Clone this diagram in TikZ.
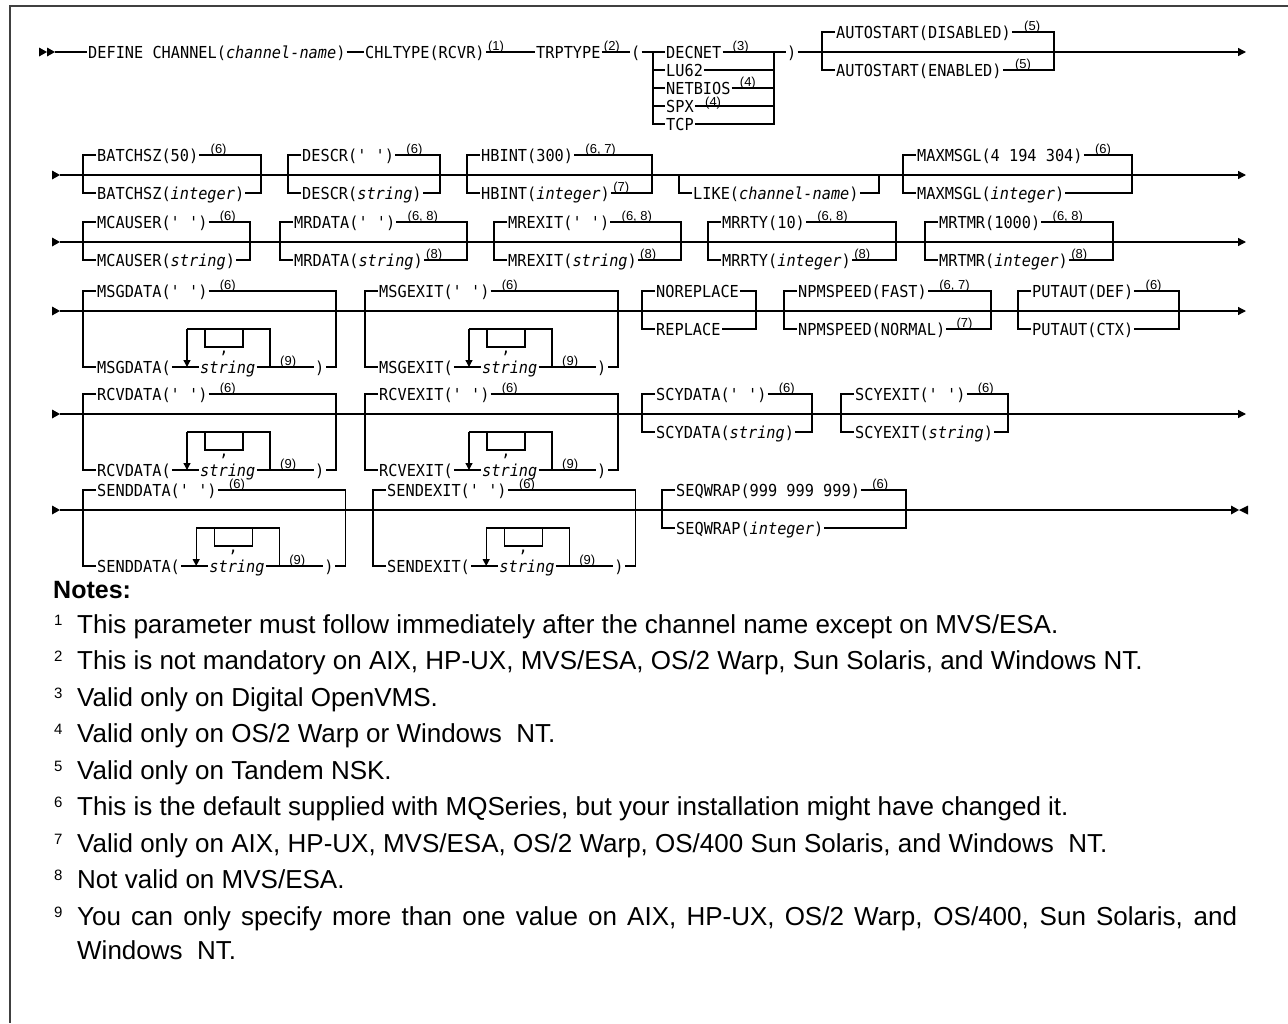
\documentclass[tikz,border=0pt]{standalone}
\usepackage{fontspec}
\usetikzlibrary{arrows.meta}
\newfontfamily\dm{DejaVu Sans Mono}[FakeStretch=0.925]
\newfontfamily\lsans{Liberation Sans}
\tikzset{
  ln/.style={line width=1.3pt},
  tx/.style={font=\dm\fontsize{16.5}{18}\selectfont, inner xsep=1pt, inner ysep=0pt, text height=12pt, text depth=0pt, anchor=west},
  sp/.style={font=\lsans\fontsize{13}{13}\selectfont, inner sep=0pt, anchor=base west},
  nt/.style={font=\lsans\fontsize{26}{30}\selectfont, inner sep=0pt, anchor=base west},
  nh/.style={font=\lsans\bfseries\fontsize{25}{30}\selectfont, inner sep=0pt, anchor=base west},
  nn/.style={font=\lsans\fontsize{15}{15}\selectfont, inner sep=0pt, anchor=base west},
  endtip/.style={-{Triangle[length=8pt,width=8pt]}},
  frame/.style={line width=1.5pt, black!75}
}
% option block: name, xl, xr, ymain, top text, bottom text
\newcommand\OB[6]{%
  \coordinate (#1tl) at (#2,#4-20);
  \coordinate (#1bl) at (#2,#4+18);
  \coordinate (#1tr) at (#3,#4-20);
  \coordinate (#1br) at (#3,#4+18);
  \node[tx] (#1t) at (#2+13,#4-20) {#5};
  \node[tx] (#1b) at (#2+13,#4+18) {#6};
  \draw[ln] (#1t.west) -- (#1tl) -- (#1bl) -- (#1b.west);
  \draw[ln] (#1t.east) -- (#1tr) -- (#1br) -- (#1b.east);
}
% repeat block: name, xl, ymain, top text, prefix, prefix chars
\newcommand\LB[6]{%
  \pgfmathsetmacro\LBll{#2+14+#6*9.2+16.4}%
  \pgfmathsetmacro\LBlr{\LBll+83}%
  \pgfmathsetmacro\LBr{\LBlr+66}%
  \pgfmathsetmacro\LBcm{(\LBll+\LBlr-9)/2}%
  \coordinate (#1tl) at (#2,#3-20);
  \coordinate (#1bl) at (#2,#3+56);
  \coordinate (#1tr) at (\LBr,#3-20);
  \coordinate (#1br) at (\LBr,#3+56);
  \coordinate (#1ll) at (\LBll,#3+56);
  \coordinate (#1llt) at (\LBll,#3+18);
  \coordinate (#1lr) at (\LBlr,#3+56);
  \coordinate (#1lrt) at (\LBlr,#3+18);
  \coordinate (#1ca) at (\LBll+18,#3+18);
  \coordinate (#1cb) at (\LBlr-27,#3+18);
  \node[tx] (#1t) at (#2+13,#3-20) {#4};
  \node[tx] (#1p) at (#2+13,#3+56) {#5};
  \node[tx] (#1s) at (\LBll+12,#3+56) {\itshape string};
  \node[tx] (#1q) at (\LBlr+44,#3+56) {)};
  \node[tx,anchor=center] (#1cm) at (\LBcm,#3+36) {,};
  \node[sp] (#1n) at ([xshift=10pt,yshift=2pt]#1lr) {(9)};
  \draw[ln] (#1t.west) -- (#1tl) -- (#1bl) -- (#1p.west);
  \draw[ln] (#1t.east) -- (#1tr) -- (#1br) -- (#1q.east);
  \draw[ln] (#1p.east) -- (#1s.west);
  \draw[ln] (#1s.east) -- (#1q.west);
  \draw[ln] (#1lr) -- (#1lrt) -- (#1llt);
  \draw[ln,-{Triangle[length=7pt,width=7pt]}] (#1llt) -- (#1ll);
  \draw[ln] (#1ca) -- (#1ca |- #1cm) -- (#1cb |- #1cm) -- (#1cb);
}
\newcommand\SP[4]{\node[sp] (#1) at ([xshift=#3pt,yshift=2pt]#2.east) {#4};}
\begin{document}
\begin{tikzpicture}[x=1pt,y=-1pt]
\useasboundingbox (0,0) rectangle (1288,1023);
% frame
\coordinate (fa) at (10,6); \coordinate (fb) at (1288,6); \coordinate (fc) at (10,1023);
\draw[frame] (fb) -- (fa) -- (fc);

% ---------------- row 1
\coordinate (r1s) at (55,52);
\fill (r1s) -- ++(-8,-4.5) -- ++(0,9) -- cycle;
\fill ([xshift=-8pt]r1s) -- ++(-8,-4.5) -- ++(0,9) -- cycle;
\node[tx] (def) at (87,52) {DEFINE CHANNEL(\textit{channel-name})};
\node[tx] (chl) at (364,52) {CHLTYPE(RCVR)};
\SP{chls}{chl}{2}{(1)}
\node[tx] (trp) at (535,52) {TRPTYPE};
\SP{trps}{trp}{2}{(2)}
\node[tx] (lp) at (630,52) {(};
\node[tx] (dec) at (665,52) {DECNET};
\node[tx] (lu) at (665,70) {LU62};
\node[tx] (nb) at (665,88) {NETBIOS};
\node[tx] (spx) at (665,106) {SPX};
\node[tx] (tcp) at (665,124) {TCP};
\SP{decs}{dec}{10}{(3)}
\SP{nbs}{nb}{8}{(4)}
\node[sp] (spxs) at ([xshift=10pt,yshift=0pt]spx.east) {(4)};
\coordinate (ta) at (653,52); \coordinate (tb) at (653,124);
\coordinate (tc) at (774,52); \coordinate (td) at (774,124);
\node[tx] (rp) at (786,52) {)};
\OB{aut}{822}{1054}{52}{AUTOSTART(DISABLED)}{AUTOSTART(ENABLED)}
\SP{auts}{autt}{12}{(5)}
\SP{autbs}{autb}{12}{(5)}
\coordinate (r1e) at (1246,52);
\draw[ln] (r1s) -- (def.west);
\draw[ln] (def.east) -- (chl.west);
\draw[ln] (chl.east) -- (trp.west);
\draw[ln] (trp.east) -- (lp.west);
\draw[ln] (lp.east) -- (dec.west);
\draw[ln] (dec.east) -- (rp.west);
\draw[ln,endtip] (rp.east) -- (r1e);
\draw[ln] (ta) -- (tb) -- (tcp.west);
\draw[ln] (ta |- lu) -- (lu.west);
\draw[ln] (ta |- nb) -- (nb.west);
\draw[ln] (ta |- spx) -- (spx.west);
\draw[ln] (tcp.east) -- (td) -- (tc);
\draw[ln] (lu.east) -- (tc |- lu);
\draw[ln] (nb.east) -- (tc |- nb);
\draw[ln] (spx.east) -- (tc |- spx);

% ---------------- row 2
\coordinate (r2s) at (60,175); \coordinate (r2e) at (1246,175);
\fill (r2s) -- ++(-8,-4.5) -- ++(0,9) -- cycle;
\draw[ln,endtip] (r2s) -- (r2e);
\OB{bat}{83}{261}{175}{BATCHSZ(50)}{BATCHSZ(\textit{integer})}
\SP{bats}{batt}{11}{(6)}
\OB{des}{288}{440}{175}{DESCR(' ')}{DESCR(\textit{string})}
\SP{dess}{dest}{11}{(6)}
\OB{hbi}{467}{652}{175}{HBINT(300)}{HBINT(\textit{integer})}
\SP{hbis}{hbit}{11}{(6, 7)}
\SP{hbibs}{hbib}{2}{(7)}
\coordinate (lka) at (679,175); \coordinate (lkb) at (679,193);
\coordinate (lkc) at (879,193); \coordinate (lkd) at (879,175);
\node[tx] (lk) at (692,193) {LIKE(\textit{channel-name})};
\draw[ln] (lka) -- (lkb) -- (lk.west);
\draw[ln] (lk.east) -- (lkc) -- (lkd);
\OB{max}{903}{1132}{175}{MAXMSGL(4 194 304)}{MAXMSGL(\textit{integer})}
\SP{maxs}{maxt}{11}{(6)}

% ---------------- row 3
\coordinate (r3s) at (60,242); \coordinate (r3e) at (1246,242);
\fill (r3s) -- ++(-8,-4.5) -- ++(0,9) -- cycle;
\draw[ln,endtip] (r3s) -- (r3e);
\OB{mca}{83}{250}{242}{MCAUSER(' ')}{MCAUSER(\textit{string})}
\SP{mcas}{mcat}{11}{(6)}
\OB{mrd}{280}{467}{242}{MRDATA(' ')}{MRDATA(\textit{string})}
\SP{mrds}{mrdt}{11}{(6, 8)}
\SP{mrdbs}{mrdb}{2}{(8)}
\OB{mre}{494}{681}{242}{MREXIT(' ')}{MREXIT(\textit{string})}
\SP{mres}{mret}{11}{(6, 8)}
\SP{mrebs}{mreb}{2}{(8)}
\OB{mrr}{708}{896}{242}{MRRTY(10)}{MRRTY(\textit{integer})}
\SP{mrrs}{mrrt}{11}{(6, 8)}
\SP{mrrbs}{mrrb}{2}{(8)}
\OB{mrt}{925}{1113}{242}{MRTMR(1000)}{MRTMR(\textit{integer})}
\SP{mrts}{mrtt}{11}{(6, 8)}
\SP{mrtbs}{mrtb}{2}{(8)}

% ---------------- row 4
\coordinate (r4s) at (60,311); \coordinate (r4e) at (1246,311);
\fill (r4s) -- ++(-8,-4.5) -- ++(0,9) -- cycle;
\draw[ln,endtip] (r4s) -- (r4e);
\LB{msd}{83}{311}{MSGDATA(' ')}{MSGDATA(}{8}
\SP{msds}{msdt}{11}{(6)}
\LB{mse}{365}{311}{MSGEXIT(' ')}{MSGEXIT(}{8}
\SP{mses}{mset}{11}{(6)}
\OB{nor}{642}{756}{311}{NOREPLACE}{REPLACE}
\OB{npm}{784}{991}{311}{NPMSPEED(FAST)}{NPMSPEED(NORMAL)}
\SP{npms}{npmt}{11}{(6, 7)}
\SP{npmbs}{npmb}{10}{(7)}
\OB{put}{1018}{1179}{311}{PUTAUT(DEF)}{PUTAUT(CTX)}
\SP{puts}{putt}{11}{(6)}

% ---------------- row 5
\coordinate (r5s) at (60,414); \coordinate (r5e) at (1246,414);
\fill (r5s) -- ++(-8,-4.5) -- ++(0,9) -- cycle;
\draw[ln,endtip] (r5s) -- (r5e);
\LB{rcd}{83}{414}{RCVDATA(' ')}{RCVDATA(}{8}
\SP{rcds}{rcdt}{11}{(6)}
\LB{rce}{365}{414}{RCVEXIT(' ')}{RCVEXIT(}{8}
\SP{rces}{rcet}{11}{(6)}
\OB{scd}{642}{812}{414}{SCYDATA(' ')}{SCYDATA(\textit{string})}
\SP{scds}{scdt}{11}{(6)}
\OB{sce}{841}{1008}{414}{SCYEXIT(' ')}{SCYEXIT(\textit{string})}
\SP{sces}{scet}{11}{(6)}

% ---------------- row 6
\coordinate (r6s) at (60,510); \coordinate (r6e) at (1231,510);
\fill (r6s) -- ++(-8,-4.5) -- ++(0,9) -- cycle;
\draw[ln] (r6s) -- (r6e);
\fill (r6e) -- ++(0,-4.5) -- ++(8,4.5) -- ++(-8,4.5) -- cycle;
\fill ([xshift=8pt]r6e) -- ++(9,-4.5) -- ++(0,9) -- cycle;
\LB{sdd}{83}{510}{SENDDATA(' ')}{SENDDATA(}{9}
\SP{sdds}{sddt}{11}{(6)}
\LB{sde}{373}{510}{SENDEXIT(' ')}{SENDEXIT(}{9}
\SP{sdes}{sdet}{11}{(6)}
\OB{seq}{662}{906}{510}{SEQWRAP(999 999 999)}{SEQWRAP(\textit{integer})}
\SP{seqs}{seqt}{11}{(6)}

% ---------------- notes
\node[nh] (notes) at (53,598) {Notes:};
\node[nn] (k1) at (54,625) {1};
\node[nt] (n1) at (77,633) {This parameter must follow immediately after the channel name except on MVS/ESA.};
\node[nn] (k2) at (54,661.5) {2};
\node[nt] (n2) at (77,669.5) {This is not mandatory on AIX, HP-UX, MVS/ESA, OS/2 Warp, Sun Solaris, and Windows NT.};
\node[nn] (k3) at (54,698) {3};
\node[nt] (n3) at (77,706) {Valid only on Digital OpenVMS.};
\node[nn] (k4) at (54,734.5) {4};
\node[nt] (n4) at (77,742.5) {Valid only on OS/2 Warp or Windows\ \ NT.};
\node[nn] (k5) at (54,771) {5};
\node[nt] (n5) at (77,779) {Valid only on Tandem NSK.};
\node[nn] (k6) at (54,807.5) {6};
\node[nt] (n6) at (77,815.5) {This is the default supplied with MQSeries, but your installation might have changed it.};
\node[nn] (k7) at (54,844) {7};
\node[nt] (n7) at (77,852) {Valid only on AIX, HP-UX, MVS/ESA, OS/2 Warp, OS/400 Sun Solaris, and Windows\ \ NT.};
\node[nn] (k8) at (54,880.5) {8};
\node[nt] (n8) at (77,888.5) {Not valid on MVS/ESA.};
\node[nn] (k9) at (54,917) {9};
\node[nt] (n9) at (77,925) {\makebox[1160pt][s]{You can only specify more than one value on AIX, HP-UX, OS/2 Warp, OS/400, Sun Solaris, and}};
\node[nt] (n9b) at (77,959) {Windows\ \ NT.};
\end{tikzpicture}
\end{document}
